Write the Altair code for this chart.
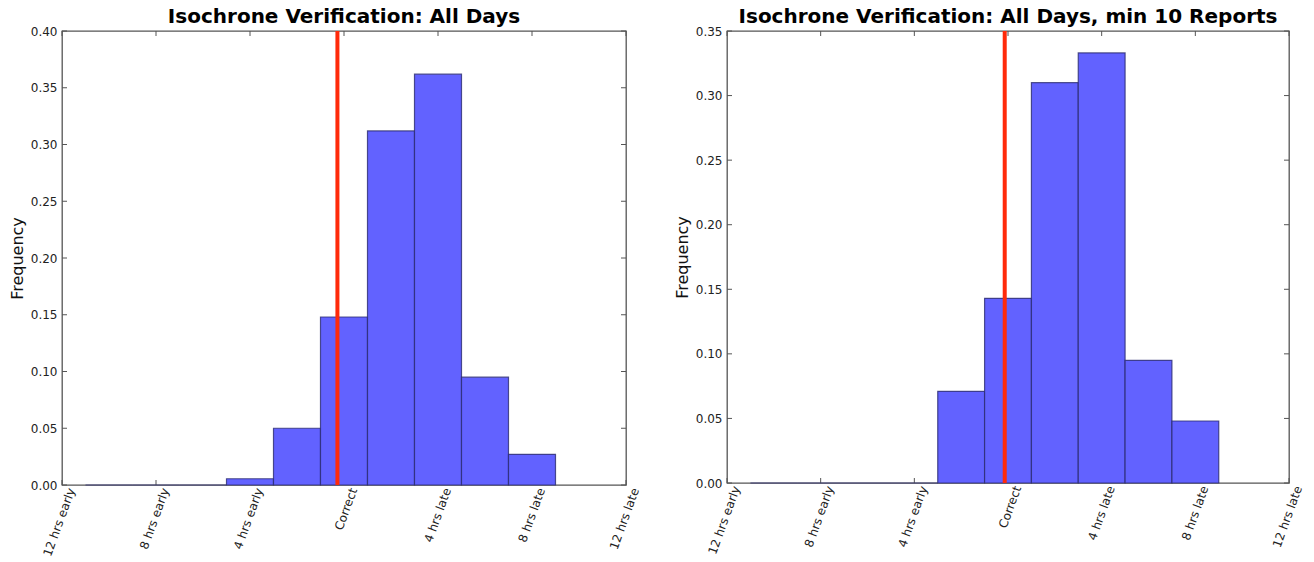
import altair as alt
import pandas as pd

# Histogram bins: each bar covers [start, start + 2) hours of isochrone error
bin_start = [-11, -9, -7, -5, -3, -1, 1, 3, 5, 7]
freq_all = [0.0, 0.0, 0.0, 0.0055, 0.050, 0.148, 0.312, 0.362, 0.095, 0.027]
freq_min10 = [0.0, 0.0, 0.0, 0.0, 0.071, 0.143, 0.310, 0.333, 0.095, 0.048]
bin_width = 2

# Reference (mean error) marker for each panel, in hours
marker_all = -0.28
marker_min10 = -0.14

tick_values = [-12, -8, -4, 0, 4, 8, 12]
tick_labels = ["12 hrs early", "8 hrs early", "4 hrs early", "Correct",
               "4 hrs late", "8 hrs late", "12 hrs late"]

y_ticks_all = [0.0, 0.05, 0.10, 0.15, 0.20, 0.25, 0.30, 0.35, 0.40]
y_ticks_min10 = [0.0, 0.05, 0.10, 0.15, 0.20, 0.25, 0.30, 0.35]

title_all = "Isochrone Verification: All Days"
title_min10 = "Isochrone Verification: All Days, min 10 Reports"

FONT = "DejaVu Sans"
BAR_FILL = "#6262ff"
BAR_EDGE = "#2b2b70"
FRAME = "#555555"

label_map = "{" + ",".join(f"'{v}':'{t}'" for v, t in zip(tick_values, tick_labels)) + "}"
label_expr = f"{label_map}[datum.value]"


def panel(freqs, marker, y_ticks, title, w, h):
    bars_df = pd.DataFrame({
        "start": bin_start,
        "end": [s + bin_width for s in bin_start],
        "freq": freqs,
    })
    xscale = alt.Scale(domain=[tick_values[0], tick_values[-1]], nice=False, zero=False)
    yscale = alt.Scale(domain=[y_ticks[0], y_ticks[-1]], nice=False)

    x_axis = alt.Axis(values=tick_values, labelExpr=label_expr, labelAngle=290,
                      labelAlign="right", labelBaseline="middle", labelOffset=9,
                      labelPadding=3, labelFontSize=12, labelFont=FONT,
                      labelColor="#222222", ticks=False, domain=False, grid=False,
                      title=None, labelOverlap=False, labelBound=False, labelFlush=False)
    y_axis = alt.Axis(values=y_ticks, format=".2f", labelFontSize=12, labelFont=FONT,
                      labelColor="#222222", labelPadding=5, ticks=False, domain=False,
                      grid=False, title="Frequency", titleFontSize=16,
                      titleFont=FONT, titleFontWeight="normal", titleColor="#111111",
                      titlePadding=5, labelOverlap=False, labelFlush=False)

    bars = alt.Chart(bars_df).mark_rect(
        fill=BAR_FILL, stroke=BAR_EDGE, strokeWidth=1.2, strokeOpacity=0.8
    ).encode(
        x=alt.X("start:Q", scale=xscale, axis=x_axis),
        x2="end:Q",
        y=alt.Y("freq:Q", scale=yscale, axis=y_axis),
        y2=alt.datum(0),
    )

    xt = pd.DataFrame({"t": tick_values})
    yt = pd.DataFrame({"t": y_ticks})
    tick_style = dict(color=FRAME, strokeWidth=1)
    x_bottom = alt.Chart(xt).mark_rule(**tick_style).encode(
        x=alt.X("t:Q", scale=xscale), y=alt.value(h), y2=alt.value(h - 5))
    x_top = alt.Chart(xt).mark_rule(**tick_style).encode(
        x=alt.X("t:Q", scale=xscale), y=alt.value(0), y2=alt.value(5))
    y_left = alt.Chart(yt).mark_rule(**tick_style).encode(
        y=alt.Y("t:Q", scale=yscale), x=alt.value(0), x2=alt.value(5))
    y_right = alt.Chart(yt).mark_rule(**tick_style).encode(
        y=alt.Y("t:Q", scale=yscale), x=alt.value(w - 5), x2=alt.value(w))

    red = alt.Chart(pd.DataFrame({"m": [marker]})).mark_rule(
        color="#ff2a0a", strokeWidth=4
    ).encode(x=alt.X("m:Q", scale=xscale))

    return alt.layer(x_bottom, x_top, y_left, y_right, bars, red).properties(
        width=w, height=h,
        title=alt.TitleParams(title, fontSize=20, font=FONT, fontWeight="bold",
                              color="#000000", offset=1, dy=3, anchor="middle"),
    )


left = panel(freq_all, marker_all, y_ticks_all, title_all, 564, 454)
right = panel(freq_min10, marker_min10, y_ticks_min10, title_min10, 562, 452)

chart = alt.hconcat(left, right, spacing=101, bounds="flush").resolve_scale(
    x="independent", y="independent"
).properties(
    padding={"left": 8, "top": 6, "right": 5, "bottom": 5},
    background="white",
).configure_view(stroke=FRAME, strokeWidth=1.3)

chart.save("out.html", embed_options={"renderer": "svg", "actions": False})
